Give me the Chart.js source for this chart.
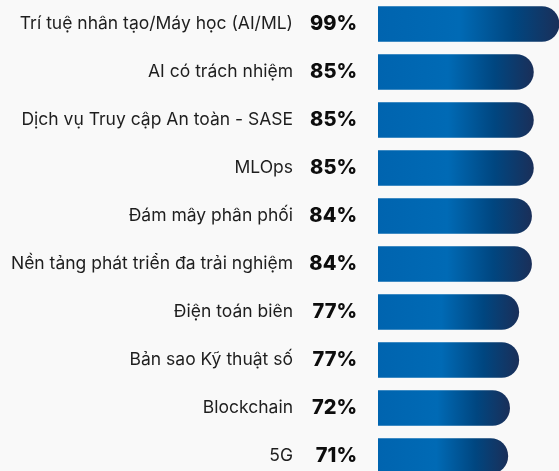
<!DOCTYPE html>
<html>
<head>
<meta charset="utf-8">
<script src="https://cdn.jsdelivr.net/npm/chart.js@4.4.0/dist/chart.umd.min.js"></script>
<style>
  html, body { margin: 0; padding: 0; background: #f9f9f9; overflow: hidden; }
  #wrap { width: 559px; height: 471px; overflow: hidden; }
</style>
</head>
<body>
<div id="wrap"><canvas id="grafico" width="559" height="480"></canvas></div>
<script>
// Dados do gráfico
const categorias = [
    'Trí tuệ nhân tạo/Máy học (AI/ML)',
    'AI có trách nhiệm',
    'Dịch vụ Truy cập An toàn - SASE',
    'MLOps',
    'Đám mây phân phối',
    'Nền tảng phát triển đa trải nghiệm',
    'Điện toán biên',
    'Bản sao Kỹ thuật số',
    'Blockchain',
    '5G'
];
const valores = [99, 85, 85, 85, 84, 84, 77, 77, 72, 71];
const rotulosPct = valores.map(v => v + '%');

// Gradiente de cada barra, do azul claro ao azul marinho
function corBarra(context) {
    const chart = context.chart;
    if (!chart.chartArea || context.raw === undefined) return '#0066b2';
    const x0 = chart.scales.x.getPixelForValue(0);
    const x1 = chart.scales.x.getPixelForValue(context.raw);
    const g = chart.ctx.createLinearGradient(x0, 0, x1, 0);
    g.addColorStop(0, '#0064af');
    g.addColorStop(0.45, '#006ab5');
    g.addColorStop(0.75, '#004680');
    g.addColorStop(1, '#1a2f59');
    return g;
}

// Ajusta a largura dos eixos e remove o espaço extra em cima/embaixo
function ajustarEixo(largura) {
    return (scale) => {
        scale.width = largura;
        scale.paddingTop = 0;
        scale.paddingBottom = 0;
    };
}

new Chart(document.getElementById('grafico'), {
    type: 'bar',
    data: {
        labels: categorias,
        datasets: [{
            data: valores,
            backgroundColor: corBarra,
            borderRadius: 18,
            borderSkipped: 'start',
            barThickness: 35,
            yAxisID: 'y'
        }]
    },
    options: {
        indexAxis: 'y',
        responsive: false,
        animation: false,
        layout: { padding: 0 },
        plugins: {
            legend: { display: false },
            tooltip: { enabled: false }
        },
        scales: {
            x: {
                display: false,
                min: 0,
                max: 99
            },
            y: {
                position: 'left',
                weight: 2,
                border: { display: false },
                grid: { display: false, drawTicks: false },
                ticks: {
                    padding: 7,
                    color: '#1e1e1e',
                    font: { family: 'Inter', size: 17.5 }
                },
                afterFit: ajustarEixo(300)
            },
            y2: {
                type: 'category',
                position: 'left',
                weight: 1,
                labels: rotulosPct,
                border: { display: false },
                grid: { display: false, drawTicks: false },
                ticks: {
                    padding: 21,
                    color: '#0d0d0d',
                    font: { family: 'Inter', size: 20, weight: 800 }
                },
                afterFit: ajustarEixo(78)
            }
        }
    }
});
</script>
</body>
</html>
